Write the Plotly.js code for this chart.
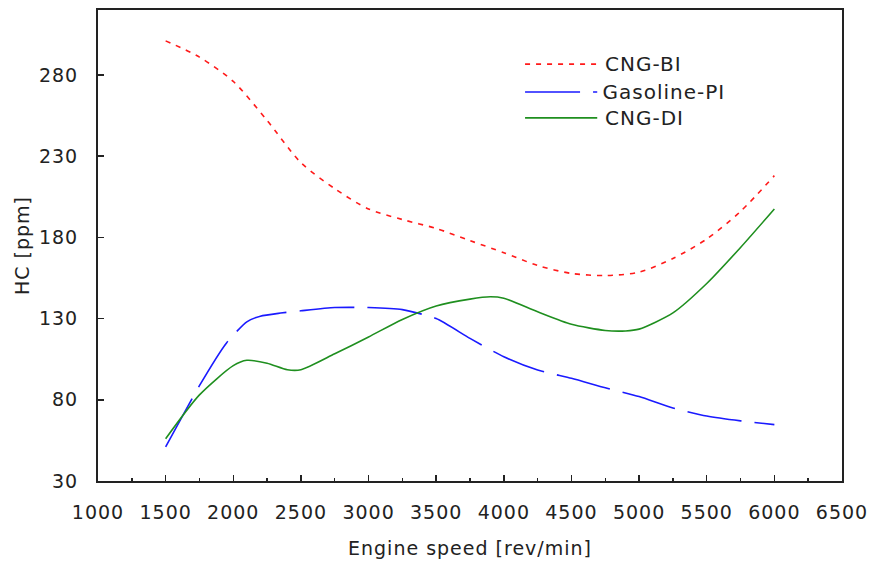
<!DOCTYPE html>
<html>
<head>
<meta charset="utf-8">
<script src="https://cdn.plot.ly/plotly-3.0.1.min.js"></script>
<style>
html,body{margin:0;padding:0;background:#fff;}
#chart{width:870px;height:563px;}
#chart svg text{letter-spacing:1px;}
</style>
</head>
<body>
<div id="chart"></div>
<script>
// Engine speed [rev/min]
const speedBI = [1500,1750,2000,2250,2500,2750,3000,3250,3500,3750,4000,4250,4500,4750,5000,5250,5500,5750,6000];
const hcBI    = [301,291,276,252,226,210,197.5,191,185.5,178,170.6,162.7,157.8,156.5,158.6,167,179,196,218];

const speedPI = [1500,1750,1950,2100,2200,2350,2500,2750,3000,3250,3500,3750,4000,4250,4500,4750,5000,5250,5500,5750,6000];
const hcPI    = [51,88.7,115,128,131.5,133.4,134.8,136.8,136.8,135.5,130,117.8,106.5,98.3,93.2,87.4,82,75,70,67,64.7];

const speedDI = [1500,1750,2000,2100,2250,2400,2500,2750,3000,3250,3500,3750,3900,4000,4250,4500,4750,4900,5000,5250,5500,5750,6000];
const hcDI    = [56,83,101,104.3,102.5,98.5,98.5,108.3,118.7,129.5,137.8,142,143.4,142.5,134.2,126.5,122.7,122.4,123.5,133.5,151.6,173.8,197.5];

const seriesNames = ['CNG-BI','Gasoline-PI','CNG-DI'];
const seriesColors = ['#ff1a1a','#1a1aff','#1f8f1f'];
const seriesDash = ['5px,6px','55px,13px','solid'];

const FONT = 'DejaVu Sans, Verdana, sans-serif';

const traces = [
  {x: speedBI, y: hcBI, name: seriesNames[0], mode: 'lines',
   line: {color: seriesColors[0], width: 1.6, dash: seriesDash[0], shape: 'spline', smoothing: 0.8}},
  {x: speedPI, y: hcPI, name: seriesNames[1], mode: 'lines',
   line: {color: seriesColors[1], width: 1.6, dash: seriesDash[1], shape: 'spline', smoothing: 0.6}},
  {x: speedDI, y: hcDI, name: seriesNames[2], mode: 'lines',
   line: {color: seriesColors[2], width: 1.6, dash: seriesDash[2], shape: 'spline', smoothing: 0.7}}
];

// custom legend (long line samples like the reference)
const legY = [0.885, 0.826, 0.771];
const shapes = [];
const annotations = [];
for (let i = 0; i < 3; i++) {
  shapes.push({type: 'line', xref: 'paper', yref: 'paper', x0: 0.574, x1: 0.671, y0: legY[i], y1: legY[i],
    line: {color: seriesColors[i], width: 1.6, dash: seriesDash[i]}});
  annotations.push({xref: 'paper', yref: 'paper', x: 0.683, y: legY[i], xanchor: 'left', yanchor: 'middle',
    text: seriesNames[i], showarrow: false, font: {family: FONT, size: 20, color: '#222'}});
}

const layout = {
  width: 870, height: 563,
  margin: {l: 98, r: 28, t: 10, b: 82},
  paper_bgcolor: '#fff', plot_bgcolor: '#fff',
  showlegend: false,
  font: {family: FONT, size: 19, color: '#222'},
  xaxis: {
    range: [1000, 6500], dtick: 500, tick0: 1000,
    showgrid: false, zeroline: false,
    showline: true, linecolor: '#222', linewidth: 2, mirror: true,
    ticks: 'inside', ticklen: 6, tickwidth: 1.5, tickcolor: '#222',
    minor: {dtick: 250, ticks: 'inside', ticklen: 3, tickwidth: 1.5, tickcolor: '#222'},
    ticklabelstandoff: 13,
    tickfont: {family: FONT, size: 19, color: '#222'},
    title: {text: 'Engine speed [rev/min]', font: {family: FONT, size: 19, color: '#222'}, standoff: 20},
    automargin: false
  },
  yaxis: {
    range: [30, 320], tickvals: [30, 80, 130, 180, 230, 280],
    showgrid: false, zeroline: false,
    showline: true, linecolor: '#222', linewidth: 2, mirror: true,
    ticks: 'inside', ticklen: 6, tickwidth: 1.5, tickcolor: '#222',
    ticklabelstandoff: 14,
    tickfont: {family: FONT, size: 19, color: '#222'},
    title: {text: 'HC [ppm]', font: {family: FONT, size: 19, color: '#222'}, standoff: 7},
    automargin: false
  },
  shapes: shapes,
  annotations: annotations
};

Plotly.newPlot('chart', traces, layout, {displayModeBar: false, staticPlot: true});
</script>
</body>
</html>
